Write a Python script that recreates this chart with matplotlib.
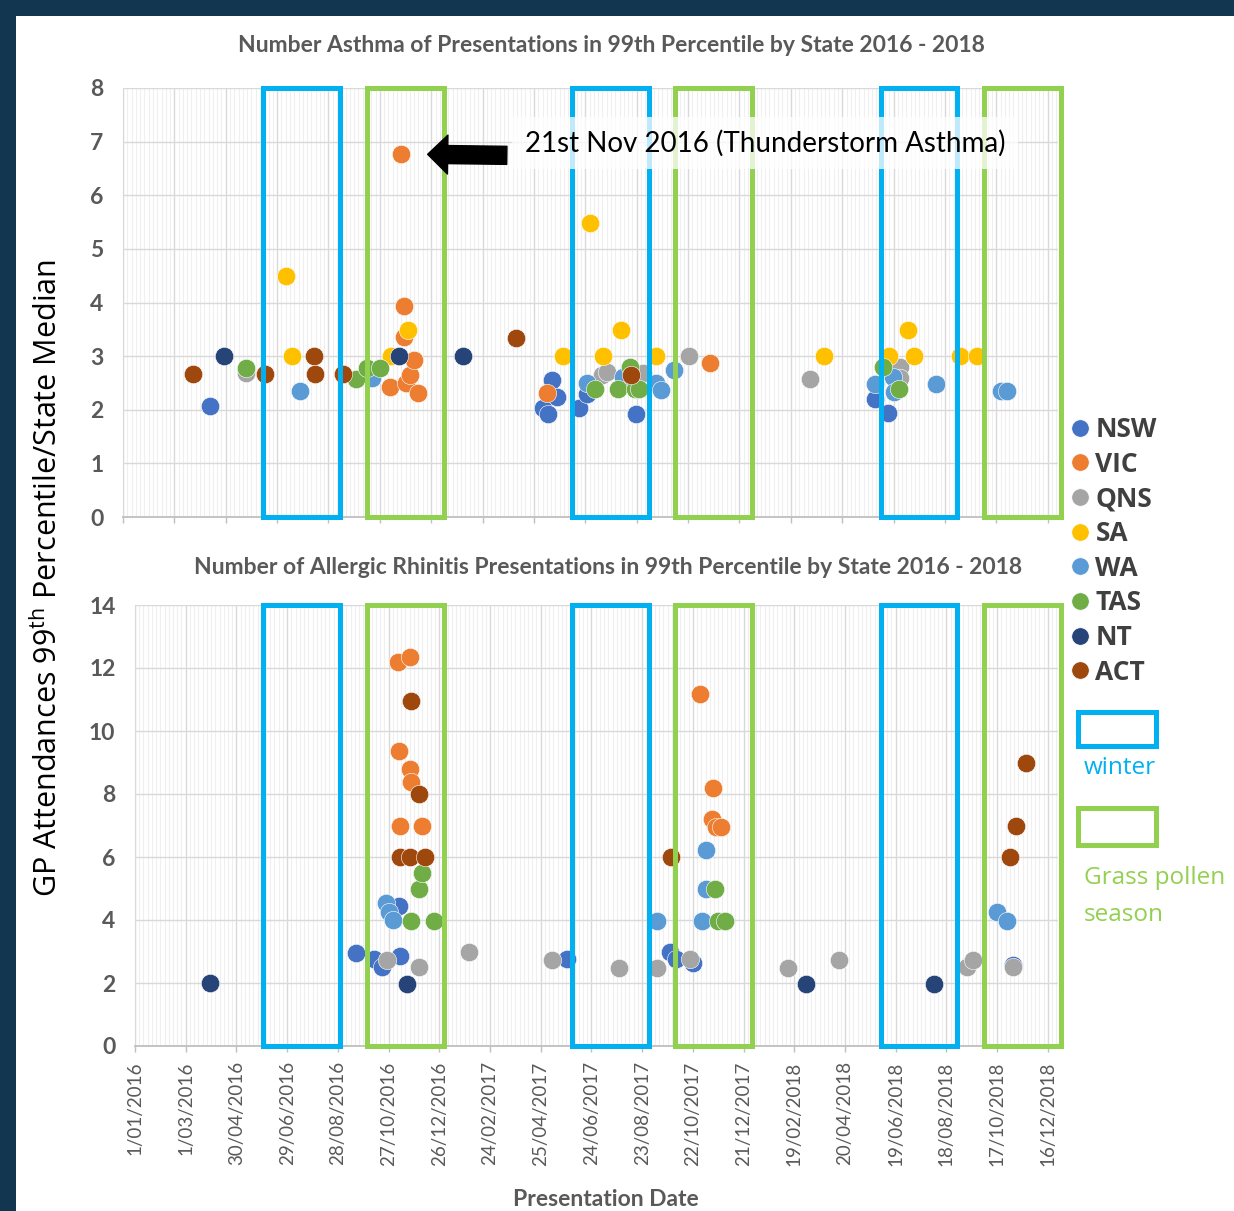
import datetime as dt
import matplotlib
matplotlib.use('Agg')
import matplotlib.pyplot as plt
import matplotlib.dates as mdates
import matplotlib.transforms as mtransforms
from matplotlib.patches import Rectangle
from matplotlib.lines import Line2D
from matplotlib.ticker import FixedLocator, FuncFormatter

# ---- data ----
states = ['NSW', 'VIC', 'QNS', 'SA', 'WA', 'TAS', 'NT', 'ACT']
state_colors = ['#4472C4', '#ED7D31', '#A5A5A5', '#FFC000', '#5B9BD5', '#70AD47', '#264478', '#9E480E']

# asthma, top chart
asthma_nsw = [('2016-04-12', 2.07), ('2017-05-06', 2.04), ('2017-05-11', 1.93), ('2017-05-16', 2.55),
              ('2017-05-22', 2.24), ('2017-06-17', 2.04), ('2017-06-26', 2.30), ('2017-08-22', 1.93),
              ('2018-05-28', 2.20), ('2018-06-13', 1.94)]
asthma_vic = [('2016-11-08', 2.43), ('2016-11-21', 6.77), ('2016-11-24', 3.93), ('2016-11-24', 3.35),
              ('2016-11-26', 2.49), ('2016-12-01', 2.64), ('2016-12-06', 2.92), ('2016-12-10', 2.31),
              ('2017-05-10', 2.31), ('2017-11-17', 2.87)]
asthma_qns = [('2016-05-24', 2.68), ('2017-07-13', 2.64), ('2017-07-19', 2.71), ('2017-08-30', 2.68),
              ('2017-10-23', 3.00), ('2018-03-13', 2.58), ('2018-06-26', 2.79), ('2018-06-27', 2.59)]
asthma_sa = [('2016-07-09', 4.49), ('2016-07-16', 3.00), ('2016-11-09', 3.00), ('2016-11-29', 3.48),
             ('2017-05-29', 3.00), ('2017-06-30', 5.49), ('2017-07-15', 3.00), ('2017-08-05', 3.48),
             ('2017-09-14', 3.00), ('2018-03-30', 3.00), ('2018-06-14', 3.00), ('2018-07-06', 3.48),
             ('2018-07-13', 3.00), ('2018-09-04', 3.00), ('2018-09-24', 3.00)]
asthma_wa = [('2016-07-26', 2.35), ('2016-10-18', 2.60), ('2017-06-26', 2.49), ('2017-08-07', 2.61),
             ('2017-09-14', 2.49), ('2017-09-20', 2.37), ('2017-10-05', 2.74), ('2018-05-28', 2.48),
             ('2018-06-18', 2.61), ('2018-06-20', 2.33), ('2018-08-08', 2.48), ('2018-10-23', 2.35),
             ('2018-10-30', 2.35)]
asthma_tas = [('2016-05-24', 2.78), ('2016-09-29', 2.58), ('2016-10-12', 2.77), ('2016-10-27', 2.78),
              ('2017-07-05', 2.38), ('2017-08-01', 2.38), ('2017-08-15', 2.80), ('2017-08-21', 2.38),
              ('2017-08-26', 2.38), ('2018-06-07', 2.79), ('2018-06-25', 2.38)]
asthma_nt = [('2016-04-28', 3.00), ('2016-11-18', 3.00), ('2017-02-01', 3.00)]
asthma_act = [('2016-03-23', 2.67), ('2016-06-15', 2.67), ('2016-08-11', 3.00), ('2016-08-12', 2.67),
              ('2016-09-14', 2.67), ('2017-04-04', 3.33), ('2017-08-16', 2.64)]

# allergic rhinitis, bottom chart
rhin_nsw = [('2016-09-18', 2.96), ('2016-10-10', 2.75), ('2016-10-19', 2.50), ('2016-11-08', 4.44),
            ('2016-11-09', 2.86), ('2017-05-26', 2.75), ('2017-09-25', 2.99), ('2017-10-02', 2.75),
            ('2017-10-22', 2.62), ('2018-11-05', 2.57)]
rhin_vic = [('2016-11-07', 12.20), ('2016-11-08', 9.37), ('2016-11-10', 7.00), ('2016-11-21', 12.36),
            ('2016-11-21', 8.78), ('2016-11-23', 8.37), ('2016-12-06', 7.00), ('2017-10-30', 11.17),
            ('2017-11-14', 7.20), ('2017-11-15', 8.18), ('2017-11-18', 6.96), ('2017-11-24', 6.96)]
rhin_qns = [('2016-10-25', 2.73), ('2016-12-02', 2.50), ('2017-01-30', 2.97), ('2017-05-08', 2.73),
            ('2017-07-27', 2.49), ('2017-09-10', 2.49), ('2017-10-19', 2.75), ('2018-02-12', 2.49),
            ('2018-04-13', 2.73), ('2018-09-11', 2.50), ('2018-09-18', 2.73), ('2018-11-05', 2.50)]
rhin_sa = []
rhin_wa = [('2016-10-24', 4.53), ('2016-10-28', 4.26), ('2016-11-01', 4.00), ('2017-09-10', 3.98),
           ('2017-11-02', 3.98), ('2017-11-06', 4.97), ('2017-11-06', 6.22), ('2018-10-17', 4.24),
           ('2018-10-29', 3.98)]
rhin_tas = [('2016-11-22', 3.98), ('2016-12-02', 4.97), ('2016-12-06', 5.48), ('2016-12-20', 3.98),
            ('2017-11-17', 4.97), ('2017-11-21', 3.98), ('2017-11-29', 3.98)]
rhin_nt = [('2016-03-30', 2.00), ('2016-11-18', 1.97), ('2018-03-05', 1.97), ('2018-08-03', 1.97)]
rhin_act = [('2016-11-10', 6.00), ('2016-11-21', 6.00), ('2016-11-22', 10.96), ('2016-12-02', 8.00),
            ('2016-12-09', 6.00), ('2017-09-26', 6.00), ('2018-11-01', 6.00), ('2018-11-08', 7.00),
            ('2018-11-20', 9.00)]

asthma_series = [asthma_nsw, asthma_vic, asthma_qns, asthma_sa, asthma_wa, asthma_tas, asthma_nt, asthma_act]
rhin_series = [rhin_nsw, rhin_vic, rhin_qns, rhin_sa, rhin_wa, rhin_tas, rhin_nt, rhin_act]

winter_seasons = [('2016-06-01', '2016-08-31'), ('2017-06-01', '2017-08-31'), ('2018-06-01', '2018-08-31')]
pollen_seasons = [('2016-10-01', '2016-12-31'), ('2017-10-01', '2017-12-31'), ('2018-10-01', '2018-12-31')]

thunderstorm = ('2016-11-21', 6.77)
x_start, x_end = '2016-01-01', '2018-12-28'
tick_step_days = 60

# ---- style ----
W, H = 1234, 1211
navy = '#133650'
grey_txt = '#595959'
winter_col = '#00B0F0'
pollen_col = '#92D050'

plt.rcParams['font.family'] = ['Lato', 'DejaVu Sans']
plt.rcParams['mathtext.fontset'] = 'custom'
plt.rcParams['mathtext.rm'] = 'Open Sans'


def to_date(s):
    return dt.datetime.strptime(s, '%Y-%m-%d')


def fmt_date(x, pos=None):
    d = mdates.num2date(x)
    return f"{d.day}/{d:%m/%Y}"


fig = plt.figure(figsize=(W / 100, H / 100), dpi=100)
fig.patch.set_facecolor(navy)
fig.add_artist(Rectangle((16 / W, 0), 1, 1 - 16 / H, transform=fig.transFigure,
                         facecolor='white', edgecolor='none', zorder=-10))

ax1 = fig.add_axes([123 / W, 1 - 517 / H, (1058 - 123) / W, (517 - 88) / H])
ax2 = fig.add_axes([135 / W, 1 - 1046 / H, (1058 - 135) / W, (1046 - 605) / H])

start = to_date(x_start)
end = to_date(x_end)
major = [start + dt.timedelta(days=tick_step_days * k) for k in range(19)]
minor = [start + dt.timedelta(days=5 * k) for k in range((end - start).days // 5 + 1)]

for ax, series, ymax, ystep in [(ax1, asthma_series, 8, 1), (ax2, rhin_series, 14, 2)]:
    ax.set_facecolor('none')
    for pts, name, col in zip(series, states, state_colors):
        if not pts:
            continue
        ax.scatter([to_date(d) for d, v in pts], [v for d, v in pts], s=175, color=col,
                   edgecolors='white', linewidths=0.4, zorder=3, label=name)
    ax.set_xlim(start, end)
    ax.set_ylim(0, ymax)
    yvals = list(range(0, ymax + 1, ystep))
    ax.set_yticks(yvals, [str(v) for v in yvals], fontweight='bold', fontsize=16.5, color=grey_txt)
    ax.xaxis.set_major_locator(FixedLocator(mdates.date2num(major)))
    ax.xaxis.set_minor_locator(FixedLocator(mdates.date2num(minor)))
    ax.xaxis.set_major_formatter(FuncFormatter(fmt_date))
    ax.grid(axis='x', which='major', color='#d9d9d9', lw=1.0)
    ax.grid(axis='x', which='minor', color='#efefef', lw=0.8)
    ax.grid(axis='y', which='major', color='#d9d9d9', lw=1.0)
    ax.set_axisbelow(True)
    for side in ['top', 'right']:
        ax.spines[side].set_visible(False)
    ax.spines['left'].set_color('#d9d9d9')
    ax.spines['bottom'].set_color('#bfbfbf')
    ax.spines['bottom'].set_linewidth(1.3)
    ax.tick_params(axis='y', length=0, pad=14)
    ax.tick_params(axis='x', which='major', length=4, color='#bfbfbf', width=1, direction='out',
                   pad=7, labelsize=13.5, labelcolor=grey_txt, labelrotation=90)
    ax.tick_params(axis='x', which='minor', length=0)

    # season boxes (dates on the x axis, full height)
    trans = mtransforms.blended_transform_factory(ax2.transData, ax.transAxes)
    for seasons, col in [(winter_seasons, winter_col), (pollen_seasons, pollen_col)]:
        for s, e in seasons:
            x0 = mdates.date2num(to_date(s))
            x1 = mdates.date2num(to_date(e))
            ax.add_patch(Rectangle((x0, 0), x1 - x0, 1, transform=trans, fill=False,
                                   edgecolor=col, lw=3.6, clip_on=False, zorder=4))

ax1.tick_params(axis='x', labelbottom=False)

# thunderstorm annotation
ev_date, ev_val = to_date(thunderstorm[0]), thunderstorm[1]
ax1.annotate('', xy=(ev_date, ev_val), xytext=(76, -1), textcoords='offset points',
             arrowprops=dict(arrowstyle='simple,head_length=0.72,head_width=1.4,tail_width=0.65',
                             mutation_scale=20, color='black', shrinkA=0, shrinkB=19), zorder=6)
ax1.annotate('21st Nov 2016 (Thunderstorm Asthma)', xy=(ev_date, ev_val), xytext=(89, 8),
             textcoords='offset points', ha='left', va='center', fontsize=20, color='black',
             bbox=dict(boxstyle='square,pad=0.45', facecolor='white', edgecolor='none', alpha=0.75),
             zorder=6)

# titles and axis labels
fig.text(611 / W, 1 - 46 / H, 'Number Asthma of Presentations in 99th Percentile by State 2016 - 2018',
         ha='center', va='center', fontsize=16.5, fontweight='bold', color=grey_txt)
fig.text(608 / W, 1 - 568 / H,
         'Number of Allergic Rhinitis Presentations in 99th Percentile by State 2016 - 2018',
         ha='center', va='center', fontsize=16.5, fontweight='bold', color=grey_txt)
fig.text(606 / W, 1 - 1200 / H, 'Presentation Date', ha='center', va='center',
         fontsize=16.5, fontweight='bold', color=grey_txt)
fig.text(48 / W, 1 - 578 / H, r'GP Attendances 99$^{\rm th}$ Percentile/State Median',
         rotation=90, ha='center', va='center', fontsize=22, color='black', family='Open Sans')

# legend
handles = [Line2D([], [], ls='none', marker='o', markersize=12.5, color=c, markeredgecolor='white',
                  markeredgewidth=0.4) for c in state_colors]
fig.legend(handles, states, loc='upper left', bbox_to_anchor=(1069 / W, 1 - 416 / H),
           frameon=False, handlelength=0.8, handletextpad=0.2, labelspacing=0.29, borderpad=0,
           borderaxespad=0, prop={'family': 'Open Sans', 'weight': 'bold', 'size': 19},
           labelcolor='#404040')

fig.add_artist(Rectangle((1078 / W, 1 - 746 / H), 78 / W, 34 / H, transform=fig.transFigure,
                         fill=False, edgecolor=winter_col, lw=3.6))
fig.text(1084 / W, 1 - 768 / H, 'winter', ha='left', va='center', fontsize=17.5,
         color=winter_col, family='Open Sans')
fig.add_artist(Rectangle((1078 / W, 1 - 845 / H), 78 / W, 37 / H, transform=fig.transFigure,
                         fill=False, edgecolor=pollen_col, lw=3.6))
fig.text(1084 / W, 1 - 878 / H, 'Grass pollen', ha='left', va='center', fontsize=17.5,
         color=pollen_col, family='Open Sans')
fig.text(1084 / W, 1 - 915 / H, 'season', ha='left', va='center', fontsize=17.5,
         color=pollen_col, family='Open Sans')

fig.savefig('out.png', dpi=100, facecolor=fig.get_facecolor())
